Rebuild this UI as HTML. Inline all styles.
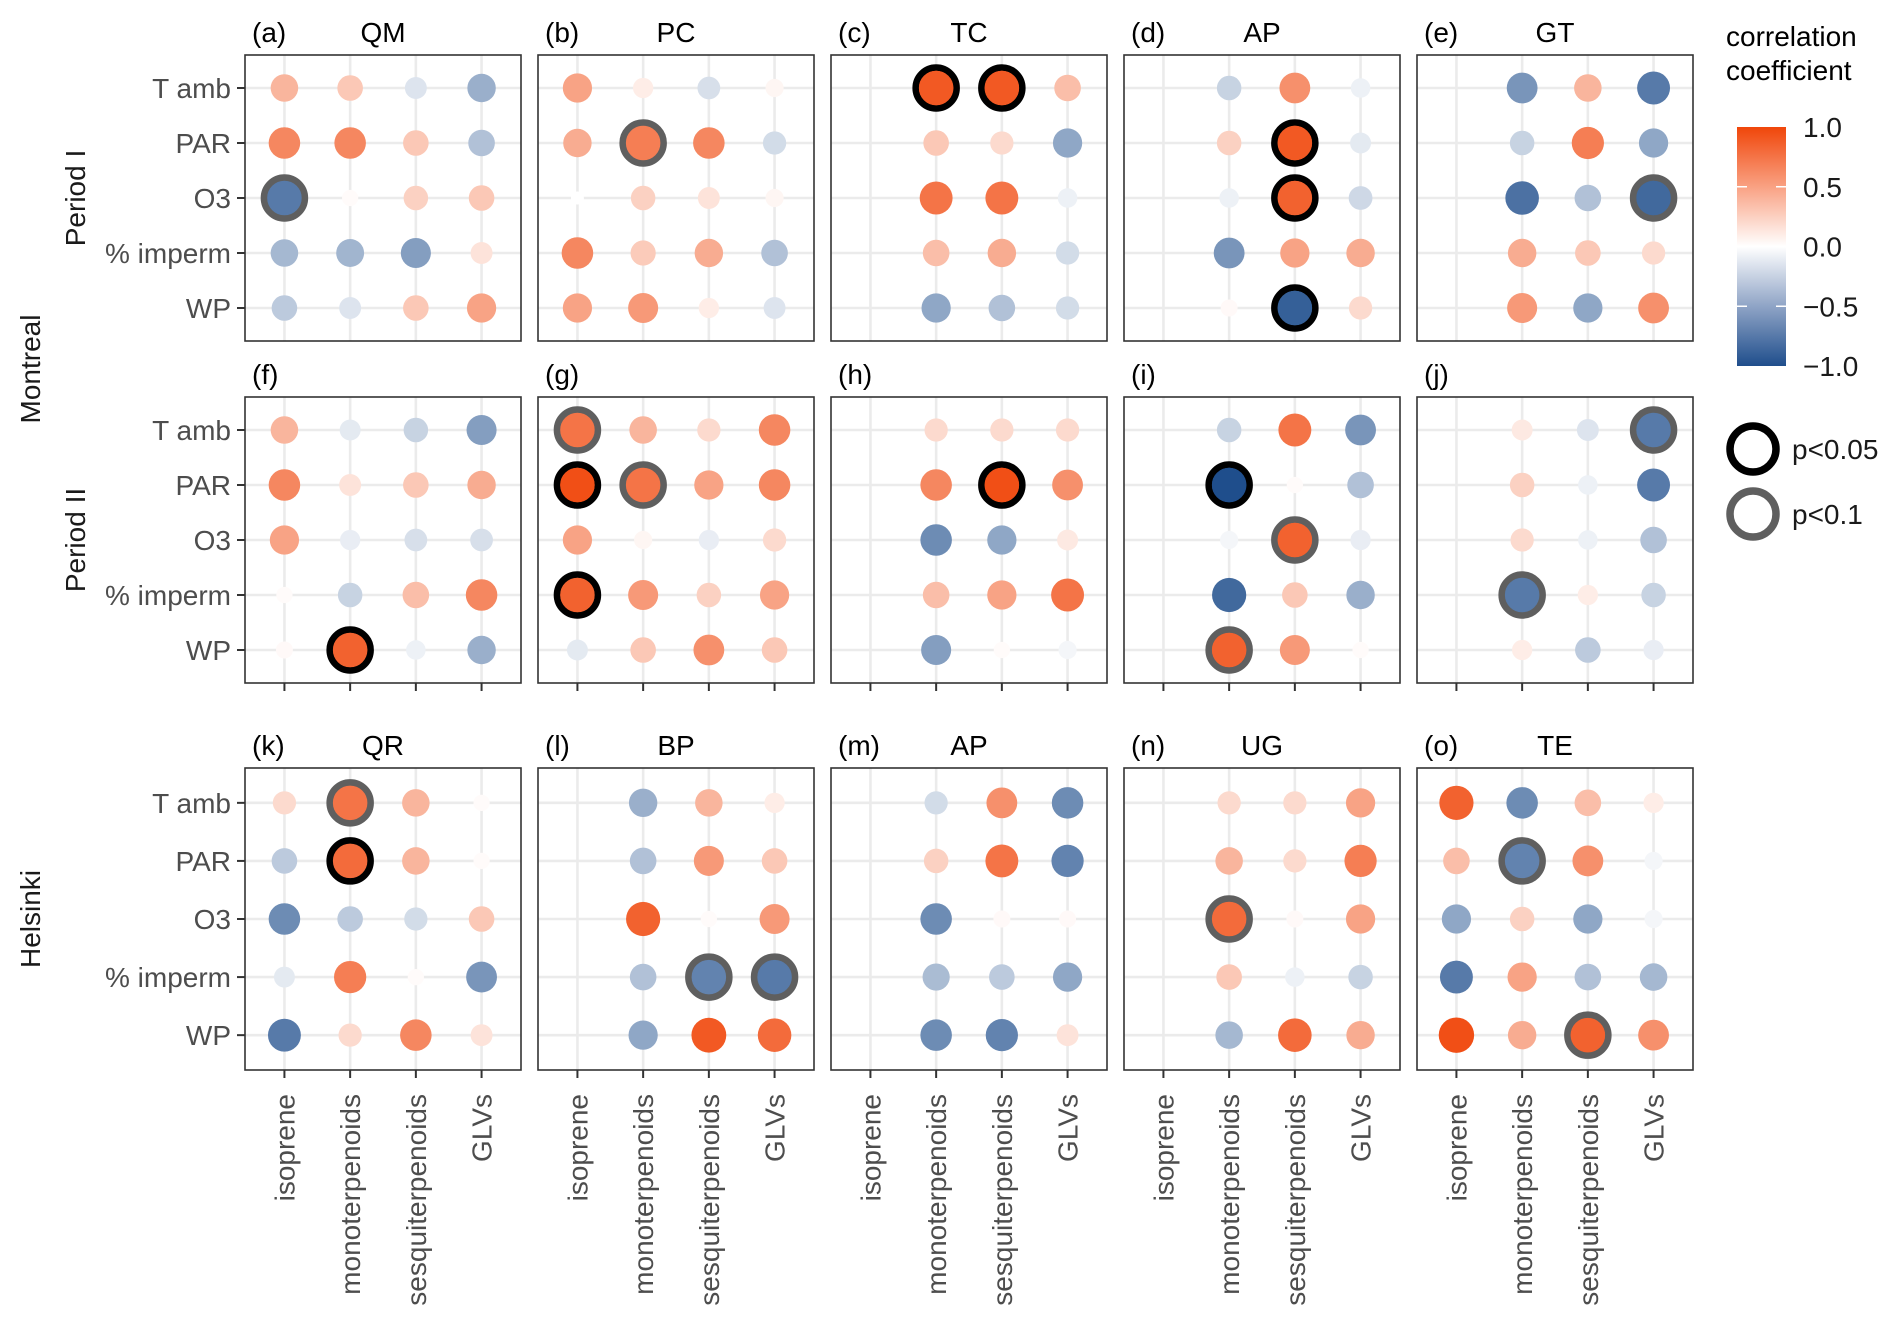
<!DOCTYPE html>
<html><head><meta charset="utf-8">
<style>
html,body{margin:0;padding:0;background:#fff;}
svg{display:block;font-family:"Liberation Sans",Arial,sans-serif;}
</style></head>
<body>
<svg id="chart" width="1892" height="1322" viewBox="0 0 1892 1322" xmlns="http://www.w3.org/2000/svg">
  <defs>
    <linearGradient id="cbar" x1="0" y1="0" x2="0" y2="1">
      <stop offset="0" stop-color="#F0460A"/>
      <stop offset="0.25" stop-color="#F9A183"/>
      <stop offset="0.5" stop-color="#FFFFFF"/>
      <stop offset="0.75" stop-color="#8FA4C6"/>
      <stop offset="1" stop-color="#1F4E8C"/>
    </linearGradient>
  </defs>
  <g id="panels"></g>
  <g id="labels">
    <text x="0" y="0" transform="translate(40,369) rotate(-90)" text-anchor="middle" font-size="28" fill="#1a1a1a">Montreal</text>
    <text x="0" y="0" transform="translate(40,919) rotate(-90)" text-anchor="middle" font-size="28" fill="#1a1a1a">Helsinki</text>
    <text x="0" y="0" transform="translate(85,198) rotate(-90)" text-anchor="middle" font-size="28" fill="#1a1a1a">Period I</text>
    <text x="0" y="0" transform="translate(85,540) rotate(-90)" text-anchor="middle" font-size="28" fill="#1a1a1a">Period II</text>
  </g>
  <g id="legend">
    <text x="1726" y="46" font-size="28" fill="#000">correlation</text>
    <text x="1726" y="80" font-size="28" fill="#000">coefficient</text>
    <rect x="1737" y="127" width="49" height="239" fill="url(#cbar)"/>
    <g id="cbticks"></g>
    <circle cx="1753" cy="449" r="23" fill="none" stroke="#000" stroke-width="7.5"/>
    <text x="1792" y="459" font-size="28" fill="#1a1a1a">p&lt;0.05</text>
    <circle cx="1753" cy="514" r="23" fill="none" stroke="#5f5f5f" stroke-width="7.5"/>
    <text x="1792" y="524" font-size="28" fill="#1a1a1a">p&lt;0.1</text>
  </g>
</svg>
<script>
// ---- data ----
const compounds = ["isoprene","monoterpenoids","sesquiterpenoids","GLVs"];
const drivers = ["T amb","PAR","O3","% imperm","WP"];
const panelTags = ["(a)","(b)","(c)","(d)","(e)","(f)","(g)","(h)","(i)","(j)","(k)","(l)","(m)","(n)","(o)"];
const panelSites = ["QM","PC","TC","AP","GT","","","","","","QR","BP","AP","UG","TE"];
const cbTicks = [1.0, 0.5, 0.0, -0.5, -1.0];
const cbTickLabels = ["1.0","0.5","0.0","\u22120.5","\u22121.0"];
const N = null;
// values: rows = drivers, cols = compounds
const vals_a = [[0.4,0.3,-0.15,-0.45],[0.65,0.65,0.3,-0.35],[-0.75,0.02,0.25,0.3],[-0.4,-0.42,-0.55,0.15],[-0.3,-0.15,0.3,0.5]];
const vals_b = [[0.5,0.1,-0.18,0.05],[0.45,0.7,0.65,-0.2],[0.0,0.25,0.15,0.05],[0.65,0.28,0.45,-0.35],[0.5,0.55,0.1,-0.15]];
const vals_c = [[N,0.9,0.9,0.35],[N,0.3,0.2,-0.5],[N,0.75,0.75,-0.08],[N,0.35,0.45,-0.2],[N,-0.5,-0.35,-0.2]];
const vals_d = [[N,-0.25,0.6,-0.08],[N,0.25,0.9,-0.12],[N,-0.08,0.85,-0.22],[N,-0.6,0.5,0.45],[N,0.03,-0.9,0.2]];
const vals_e = [[N,-0.6,0.4,-0.75],[N,-0.25,0.7,-0.5],[N,-0.8,-0.35,-0.85],[N,0.45,0.3,0.2],[N,0.55,-0.5,0.6]];
const vals_f = [[0.4,-0.12,-0.25,-0.55],[0.65,0.15,0.3,0.45],[0.5,-0.1,-0.18,-0.18],[0.02,-0.25,0.35,0.65],[0.03,0.85,-0.08,-0.45]];
const vals_g = [[0.75,0.4,0.2,0.65],[0.95,0.75,0.5,0.65],[0.5,0.05,-0.1,0.2],[0.85,0.55,0.25,0.5],[-0.12,0.3,0.6,0.3]];
const vals_h = [[N,0.2,0.2,0.2],[N,0.65,0.95,0.6],[N,-0.65,-0.5,0.12],[N,0.35,0.5,0.75],[N,-0.55,0.02,-0.05]];
const vals_i = [[N,-0.25,0.75,-0.6],[N,-1.0,0.02,-0.35],[N,-0.05,0.85,-0.1],[N,-0.85,0.3,-0.45],[N,0.85,0.55,0.02]];
const vals_j = [[N,0.12,-0.15,-0.75],[N,0.25,-0.08,-0.75],[N,0.2,-0.08,-0.35],[N,-0.75,0.1,-0.25],[N,0.1,-0.3,-0.1]];
const vals_k = [[0.2,0.75,0.4,0.02],[-0.3,0.8,0.4,0.02],[-0.65,-0.3,-0.2,0.3],[-0.12,0.7,0.02,-0.6],[-0.75,0.2,0.65,0.15]];
const vals_l = [[N,-0.45,0.4,0.1],[N,-0.35,0.55,0.3],[N,0.85,0.02,0.55],[N,-0.35,-0.7,-0.75],[N,-0.5,0.9,0.8]];
const vals_m = [[N,-0.2,0.6,-0.65],[N,0.25,0.75,-0.7],[N,-0.65,0.03,0.03],[N,-0.38,-0.3,-0.5],[N,-0.65,-0.7,0.15]];
const vals_n = [[N,0.2,0.2,0.5],[N,0.4,0.2,0.7],[N,0.8,0.03,0.5],[N,0.3,-0.08,-0.25],[N,-0.4,0.8,0.45]];
const vals_o = [[0.85,-0.65,0.35,0.1],[0.35,-0.7,0.6,-0.05],[-0.5,0.25,-0.5,-0.05],[-0.75,0.5,-0.35,-0.4],[0.95,0.45,0.85,0.6]];
// significance: 0 none, 1 p<0.1, 2 p<0.05
const sig_a = [[0,0,0,0],[0,0,0,0],[1,0,0,0],[0,0,0,0],[0,0,0,0]];
const sig_b = [[0,0,0,0],[0,1,0,0],[0,0,0,0],[0,0,0,0],[0,0,0,0]];
const sig_c = [[0,2,2,0],[0,0,0,0],[0,0,0,0],[0,0,0,0],[0,0,0,0]];
const sig_d = [[0,0,0,0],[0,0,2,0],[0,0,2,0],[0,0,0,0],[0,0,2,0]];
const sig_e = [[0,0,0,0],[0,0,0,0],[0,0,0,1],[0,0,0,0],[0,0,0,0]];
const sig_f = [[0,0,0,0],[0,0,0,0],[0,0,0,0],[0,0,0,0],[0,2,0,0]];
const sig_g = [[1,0,0,0],[2,1,0,0],[0,0,0,0],[2,0,0,0],[0,0,0,0]];
const sig_h = [[0,0,0,0],[0,0,2,0],[0,0,0,0],[0,0,0,0],[0,0,0,0]];
const sig_i = [[0,0,0,0],[0,2,0,0],[0,0,1,0],[0,0,0,0],[0,1,0,0]];
const sig_j = [[0,0,0,1],[0,0,0,0],[0,0,0,0],[0,1,0,0],[0,0,0,0]];
const sig_k = [[0,1,0,0],[0,2,0,0],[0,0,0,0],[0,0,0,0],[0,0,0,0]];
const sig_l = [[0,0,0,0],[0,0,0,0],[0,0,0,0],[0,0,1,1],[0,0,0,0]];
const sig_m = [[0,0,0,0],[0,0,0,0],[0,0,0,0],[0,0,0,0],[0,0,0,0]];
const sig_n = [[0,0,0,0],[0,0,0,0],[0,1,0,0],[0,0,0,0],[0,0,0,0]];
const sig_o = [[0,0,0,0],[0,1,0,0],[0,0,0,0],[0,0,0,0],[0,0,1,0]];
const panelVals = [vals_a,vals_b,vals_c,vals_d,vals_e,vals_f,vals_g,vals_h,vals_i,vals_j,vals_k,vals_l,vals_m,vals_n,vals_o];
const panelSig = [sig_a,sig_b,sig_c,sig_d,sig_e,sig_f,sig_g,sig_h,sig_i,sig_j,sig_k,sig_l,sig_m,sig_n,sig_o];

// ---- layout ----
const NS = "http://www.w3.org/2000/svg";
const colLeft = [245,538,831,1124,1417];
const rowTop = [55,397,768];
const rowH = [286,286,302];
const PW = 276;
function mk(tag, attrs, parent){
  const e = document.createElementNS(NS, tag);
  for (const k in attrs) e.setAttribute(k, attrs[k]);
  parent.appendChild(e);
  return e;
}
function xScale(left, i){ return left + (i + 0.6) * PW / 4.2; }
function yScale(top, h, j){ return top + (j + 0.6) * h / 5.2; }
function rScale(v){ return 6.5 + 11.5 * Math.sqrt(Math.abs(v)); }
const hi = [240,70,10], lo = [31,78,140];
function colorOf(v){
  const t = Math.min(1, Math.abs(v));
  const c = v >= 0 ? hi : lo;
  const m = [0,1,2].map(k => Math.round(255 + (c[k] - 255) * t));
  return "rgb(" + m.join(",") + ")";
}
const g = document.getElementById("panels");
for (let p = 0; p < 15; p++){
  const r = Math.floor(p / 5), c = p % 5;
  const L = colLeft[c], T = rowTop[r], H = rowH[r];
  const pg = mk("g", {}, g);
  
  
  const bg = mk("rect", {x:L, y:T, width:PW, height:H, fill:"#fff"}, pg);
  
  
  for (let i = 0; i < 4; i++){
    const x = xScale(L, i);
    const gl = mk("line", {x1:x, x2:x, y1:T, y2:T+H, stroke:"#EBEBEB", "stroke-width":2.6}, pg);
    
    
  }
  for (let j = 0; j < 5; j++){
    const y = yScale(T, H, j);
    const gl = mk("line", {x1:L, x2:L+PW, y1:y, y2:y, stroke:"#EBEBEB", "stroke-width":2.6}, pg);
    
    
  }
  const vals = panelVals[p], sg = panelSig[p];
  for (let j = 0; j < 5; j++){
    for (let i = 0; i < 4; i++){
      const v = vals[j][i];
      if (v === null) continue;
      const x = xScale(L, i), y = yScale(T, H, j);
      if (sg[j][i] > 0){
        const ring = mk("circle", {cx:x, cy:y, r:20.5, fill:colorOf(v), stroke: sg[j][i] === 2 ? "#000" : "#5f5f5f", "stroke-width":6.5}, pg);
        
        
      }
      const dot = mk("circle", {cx:x, cy:y, r: sg[j][i] > 0 ? Math.min(rScale(v), 17.2) : rScale(v), fill:colorOf(v)}, pg);
      
      
    }
  }
  const border = mk("rect", {x:L, y:T, width:PW, height:H, fill:"none", stroke:"#333", "stroke-width":1.6}, pg);
  
  
  const tag = mk("text", {x:L+7, y:T-13, "font-size":28, fill:"#000"}, pg);
  tag.textContent = panelTags[p];
  
  
  if (panelSites[p]){
    const st = mk("text", {x:L+PW/2, y:T-13, "font-size":28, fill:"#000", "text-anchor":"middle"}, pg);
    st.textContent = panelSites[p];
    
    
  }
  if (c === 0){
    for (let j = 0; j < 5; j++){
      const y = yScale(T, H, j);
      const tk = mk("line", {x1:L-8, x2:L, y1:y, y2:y, stroke:"#333", "stroke-width":2}, pg);
      
      
      const lb = mk("text", {x:L-14, y:y+10, "font-size":28, fill:"#4D4D4D", "text-anchor":"end"}, pg);
      lb.textContent = drivers[j];
      
      
    }
  }
  if (r >= 1){
    for (let i = 0; i < 4; i++){
      const x = xScale(L, i);
      const tk = mk("line", {x1:x, x2:x, y1:T+H, y2:T+H+8, stroke:"#333", "stroke-width":2}, pg);
      
      
    }
  }
  if (r === 2){
    for (let i = 0; i < 4; i++){
      const x = xScale(L, i);
      const lb = mk("text", {x:0, y:0, "font-size":28, fill:"#4D4D4D", "text-anchor":"end", transform:"translate(" + (x + 10) + "," + (T+H+24) + ") rotate(-90)"}, pg);
      lb.textContent = compounds[i];
      
      
    }
  }
}
// colorbar ticks/labels
const cbg = document.getElementById("cbticks");
for (let k = 0; k < cbTicks.length; k++){
  const y = 127 + (1 - cbTicks[k]) / 2 * 239;
  if (Math.abs(cbTicks[k]) < 1){
    const t1 = mk("line", {x1:1737, x2:1747, y1:y, y2:y, stroke:"#fff", "stroke-width":1.5}, cbg);
    
    
    const t2 = mk("line", {x1:1776, x2:1786, y1:y, y2:y, stroke:"#fff", "stroke-width":1.5}, cbg);
    
    
  }
  const lb = mk("text", {x:1803, y:y+10, "font-size":28, fill:"#1a1a1a"}, cbg);
  lb.textContent = cbTickLabels[k];
  
  
}
</script>
</body></html>
